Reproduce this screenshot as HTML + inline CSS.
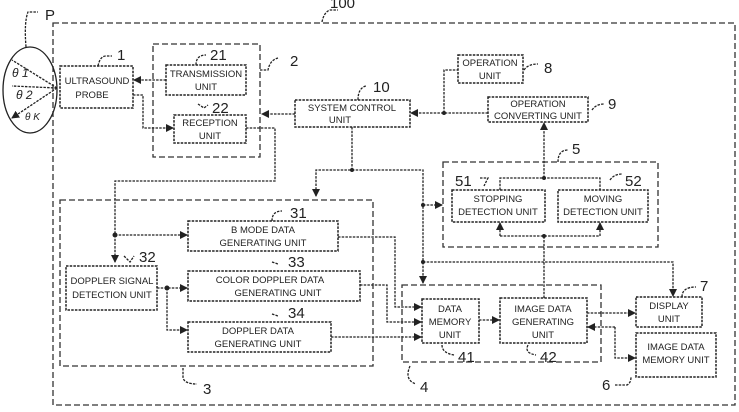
<!DOCTYPE html>
<html><head><meta charset="utf-8"><style>
html,body{margin:0;padding:0;background:#fff}
svg{display:block}
text{font-family:"Liberation Sans",sans-serif;fill:#222}
.b{fill:none;stroke:#222;stroke-width:1.5;stroke-dasharray:2.5,1.2}
.g{fill:none;stroke:#333;stroke-width:1.3;stroke-dasharray:6,3}
.l{fill:none;stroke:#222;stroke-width:1.3;stroke-dasharray:2.5,1.2}
.t{font-size:9.5px;text-anchor:middle}
.n{font-size:15px}
</style></head><body>
<svg width="739" height="412" viewBox="0 0 739 412">
<defs><marker id="a" markerWidth="8" markerHeight="8" refX="7" refY="4" orient="auto" markerUnits="userSpaceOnUse"><path d="M0,0 L8,4 L0,8 z" fill="#222"/></marker></defs>
<!-- outer -->
<rect x="53" y="23" width="682" height="382" class="g"/>
<text x="330" y="8" class="n">100</text><path d="M322,22 q2,-10 8,-12 l8,0" class="l"/>
<!-- P -->
<ellipse cx="30" cy="90" rx="27" ry="43" fill="none" stroke="#222" stroke-width="1.3"/>
<text x="45" y="20" class="n">P</text><path d="M26,47 q-2,-25 2,-35 l10,0" class="l"/>
<path d="M57,88 L12,60 M57,88 L12,86 M57,88 L12,118" class="l" marker-end="url(#a)"/>
<text x="12" y="77" font-size="12" font-style="italic">θ 1</text>
<text x="16" y="99" font-size="12" font-style="italic">θ 2</text>
<text x="25" y="120" font-size="10" font-style="italic">θ K</text>
<!-- group 2 -->
<rect x="153" y="44" width="107" height="113" class="g"/>
<text x="290" y="66" class="n">2</text><path d="M260,70 l8,0 q2,-10 10,-12" class="l"/>
<rect x="60" y="66" width="73" height="42" class="b"/>
<text x="97" y="84" class="t">ULTRASOUND</text><text x="92" y="98" class="t">PROBE</text>
<text x="117" y="60" class="n">1</text><path d="M98,66 q2,-10 8,-10 l6,0" class="l"/>
<rect x="166" y="65" width="80" height="30" class="b"/>
<text x="206" y="77" class="t">TRANSMISSION</text><text x="206" y="90" class="t">UNIT</text>
<text x="210" y="60" class="n">21</text><path d="M196,65 q0,-10 10,-10" class="l"/>
<rect x="174" y="115" width="72" height="28" class="b"/>
<text x="210" y="126" class="t">RECEPTION</text><text x="210" y="139" class="t">UNIT</text>
<text x="212" y="113" class="n">22</text><path d="M198,104 l6,4 l4,-3" class="l"/>
<path d="M166,80 L134,80" class="l" marker-end="url(#a)"/>
<path d="M133,95 L143,95 L143,128 L173,128" class="l" marker-end="url(#a)"/>
<!-- system control -->
<rect x="295" y="100" width="115" height="27" class="b"/>
<text x="352" y="111" class="t">SYSTEM CONTROL</text><text x="340" y="123" class="t">UNIT</text>
<text x="373" y="92" class="n">10</text><path d="M358,100 q0,-12 8,-14" class="l"/>
<path d="M295,114 L262,114" class="l" marker-end="url(#a)"/>
<path d="M246,128 L275,128 L275,181 L115,181 L115,262" class="l" marker-end="url(#a)"/>
<path d="M352,127 L352,170 L316,170 L316,196" class="l" marker-end="url(#a)"/>
<circle cx="352" cy="170" r="2" fill="#222"/>
<path d="M352,170 L423,170 L423,262" class="l"/>
<path d="M423,205 L442,205" class="l" marker-end="url(#a)"/><circle cx="423" cy="205" r="2" fill="#222"/>
<path d="M423,262 L423,283" class="l" marker-end="url(#a)"/><circle cx="423" cy="262" r="2" fill="#222"/>
<path d="M423,262 L673,262 L673,296" class="l" marker-end="url(#a)"/>
<!-- op units -->
<rect x="458" y="55" width="65" height="28" class="b"/>
<text x="490" y="66" class="t">OPERATION</text><text x="490" y="79" class="t">UNIT</text>
<text x="544" y="73" class="n">8</text><path d="M524,70 q4,-6 14,-6" class="l"/>
<rect x="488" y="97" width="100" height="25" class="b"/>
<text x="538" y="107" class="t">OPERATION</text><text x="538" y="119" class="t">CONVERTING UNIT</text>
<text x="608" y="109" class="n">9</text><path d="M592,110 q4,-6 12,-6" class="l"/>
<path d="M488,113 L411,113" class="l" marker-end="url(#a)"/>
<path d="M444,113 L444,70 L458,70" class="l"/><circle cx="444" cy="113" r="2" fill="#222"/>
<!-- group 5 -->
<rect x="443" y="162" width="215" height="85" class="g"/>
<text x="572" y="154" class="n">5</text><path d="M558,162 q0,-12 10,-12" class="l"/>
<rect x="452" y="190" width="93" height="32" class="b"/>
<text x="498" y="202" class="t">STOPPING</text><text x="498" y="215" class="t">DETECTION UNIT</text>
<rect x="558" y="190" width="90" height="32" class="b"/>
<text x="603" y="202" class="t">MOVING</text><text x="603" y="215" class="t">DETECTION UNIT</text>
<text x="455" y="186" class="n">51</text><path d="M480,178 l8,0 l-4,8" class="l"/>
<text x="625" y="186" class="n">52</text><path d="M610,180 q4,-6 12,-6" class="l"/>
<path d="M544,178 L544,123" class="l" marker-end="url(#a)"/><circle cx="544" cy="178" r="2" fill="#222"/>
<path d="M500,190 L500,178 L600,178 L600,190" class="l"/>
<path d="M544,298 L544,236" class="l"/><circle cx="544" cy="236" r="2" fill="#222"/>
<path d="M500,236 L600,236" class="l"/>
<path d="M500,236 L500,223" class="l" marker-end="url(#a)"/>
<path d="M600,236 L600,223" class="l" marker-end="url(#a)"/>
<!-- group 3 -->
<rect x="60" y="200" width="313" height="166" class="g"/>
<text x="203" y="394" class="n">3</text><path d="M183,368 l0,10 q2,6 14,6" class="l"/>
<rect x="188" y="221" width="150" height="30" class="b"/>
<text x="263" y="233" class="t">B MODE DATA</text><text x="263" y="246" class="t">GENERATING UNIT</text>
<text x="290" y="218" class="n">31</text><path d="M272,221 q0,-10 10,-10" class="l"/>
<rect x="66" y="266" width="91" height="44" class="b"/>
<text x="112" y="284" class="t">DOPPLER SIGNAL</text><text x="112" y="298" class="t">DETECTION UNIT</text>
<text x="139" y="262" class="n">32</text><path d="M124,256 l6,6 l4,-6" class="l"/>
<rect x="188" y="271" width="172" height="30" class="b"/>
<text x="270" y="283" class="t">COLOR DOPPLER  DATA</text><text x="278" y="296" class="t">GENERATING UNIT</text>
<text x="288" y="267" class="n">33</text><path d="M272,262 l6,2" class="l"/>
<rect x="188" y="322" width="143" height="30" class="b"/>
<text x="258" y="334" class="t">DOPPLER DATA</text><text x="258" y="347" class="t">GENERATING UNIT</text>
<text x="288" y="318" class="n">34</text><path d="M272,314 l6,2" class="l"/>
<path d="M115,235 L187,235" class="l" marker-end="url(#a)"/><circle cx="115" cy="235" r="2.5" fill="#222"/>
<path d="M157,288 L187,288" class="l" marker-end="url(#a)"/><circle cx="167" cy="288" r="2.5" fill="#222"/>
<path d="M167,288 L167,330 L187,330" class="l" marker-end="url(#a)"/>
<path d="M338,237 L395,237 L395,307 L421,307" class="l" marker-end="url(#a)"/>
<path d="M360,285 L387,285 L387,322 L421,322" class="l" marker-end="url(#a)"/>
<path d="M331,337 L421,337" class="l" marker-end="url(#a)"/>
<!-- group 4 -->
<rect x="402" y="285" width="199" height="77" class="g"/>
<text x="420" y="392" class="n">4</text><path d="M410,366 q-6,14 6,18" class="l"/>
<rect x="422" y="299" width="57" height="44" class="b"/>
<text x="450" y="312" class="t">DATA</text><text x="450" y="325" class="t">MEMORY</text><text x="450" y="338" class="t">UNIT</text>
<text x="458" y="362" class="n">41</text><path d="M442,345 q0,8 12,10" class="l"/>
<rect x="500" y="298" width="87" height="45" class="b"/>
<text x="543" y="312" class="t">IMAGE DATA</text><text x="543" y="325" class="t">GENERATING</text><text x="543" y="338" class="t">UNIT</text>
<text x="540" y="362" class="n">42</text><path d="M528,345 q-4,8 8,10" class="l"/>
<path d="M479,320 L499,320" class="l" marker-end="url(#a)"/>
<path d="M587,313 L635,313" class="l" marker-end="url(#a)"/>
<path d="M615,327 L588,327" class="l" marker-end="url(#a)"/>
<path d="M615,327 L615,358 L635,358" class="l" marker-end="url(#a)"/>
<!-- display & image memory -->
<rect x="636" y="297" width="66" height="30" class="b"/>
<text x="669" y="309" class="t">DISPLAY</text><text x="669" y="322" class="t">UNIT</text>
<text x="700" y="291" class="n">7</text><path d="M682,297 q0,-10 14,-10" class="l"/>
<rect x="636" y="333" width="80" height="44" class="b"/>
<text x="676" y="350" class="t">IMAGE DATA</text><text x="676" y="363" class="t">MEMORY UNIT</text>
<text x="602" y="390" class="n">6</text><path d="M615,385 l12,0 q4,-2 4,-8" class="l"/>
</svg>
</body></html>
